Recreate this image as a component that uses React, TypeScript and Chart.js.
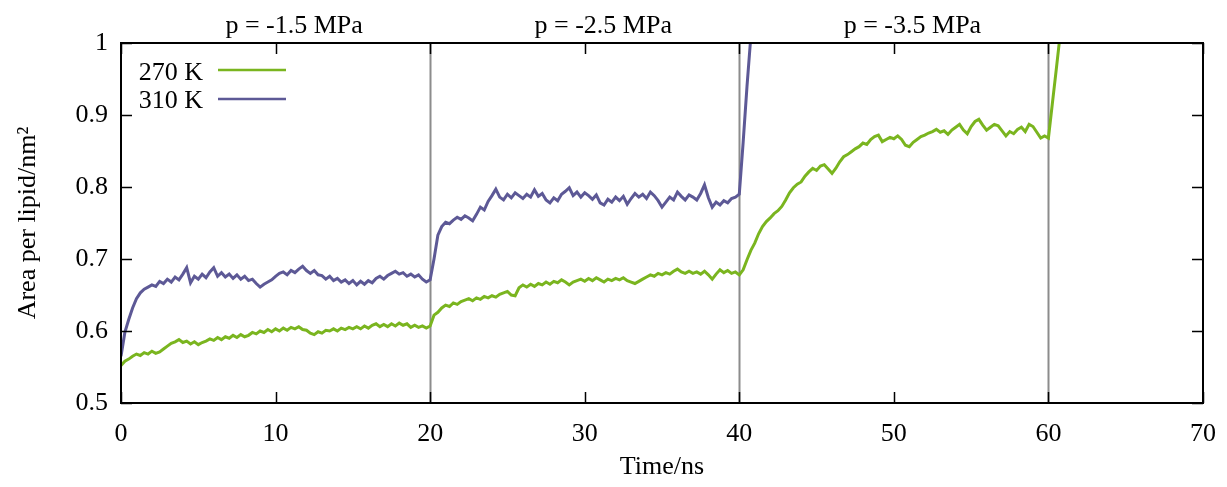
import { useEffect, useRef } from 'react';
import { Chart, registerables } from 'chart.js';

Chart.register(...registerables);

// time grid step (ns) of the sampled series
const STEP = 0.25;

// Area per lipid (nm^2), 270 K, sampled every 0.25 ns from t = 0
const area270K = [
  0.552, 0.558, 0.561, 0.565, 0.568, 0.566, 0.570, 0.568, 0.572, 0.569, 0.571, 0.575, 0.579, 0.583, 0.585, 0.588, 0.584, 0.586, 0.582, 0.585,
  0.581, 0.584, 0.586, 0.589, 0.587, 0.591, 0.588, 0.592, 0.590, 0.594, 0.591, 0.595, 0.592, 0.594, 0.598, 0.596, 0.600, 0.598, 0.602, 0.599,
  0.603, 0.600, 0.604, 0.601, 0.605, 0.603, 0.606, 0.602, 0.601, 0.597, 0.595, 0.599, 0.597, 0.601, 0.600, 0.603, 0.600, 0.604, 0.602, 0.605,
  0.603, 0.606, 0.603, 0.607, 0.604, 0.608, 0.610, 0.606, 0.609, 0.606, 0.610, 0.607, 0.611, 0.608, 0.610, 0.605, 0.608, 0.605, 0.607, 0.604,
  0.607, 0.622, 0.626, 0.632, 0.636, 0.634, 0.639, 0.637, 0.641, 0.643, 0.645, 0.642, 0.646, 0.644, 0.648, 0.646, 0.649, 0.647, 0.651, 0.653,
  0.655, 0.650, 0.649, 0.660, 0.664, 0.661, 0.665, 0.662, 0.666, 0.664, 0.668, 0.665, 0.669, 0.667, 0.671, 0.668, 0.664, 0.668, 0.670, 0.672,
  0.669, 0.673, 0.670, 0.674, 0.671, 0.668, 0.672, 0.670, 0.673, 0.671, 0.674, 0.670, 0.668, 0.666, 0.669, 0.672, 0.675, 0.678, 0.676, 0.680,
  0.678, 0.681, 0.679, 0.683, 0.686, 0.682, 0.680, 0.683, 0.680, 0.682, 0.679, 0.683, 0.678, 0.672, 0.679, 0.685, 0.681, 0.684, 0.680, 0.682,
  0.678, 0.685, 0.699, 0.712, 0.722, 0.735, 0.745, 0.752, 0.757, 0.763, 0.767, 0.773, 0.782, 0.792, 0.799, 0.804, 0.807, 0.815, 0.821, 0.826,
  0.823, 0.829, 0.831, 0.825, 0.819, 0.826, 0.835, 0.842, 0.845, 0.849, 0.853, 0.856, 0.861, 0.859, 0.866, 0.870, 0.872, 0.863, 0.866, 0.869,
  0.867, 0.871, 0.866, 0.858, 0.856, 0.862, 0.866, 0.870, 0.872, 0.875, 0.877, 0.880, 0.876, 0.878, 0.873, 0.879, 0.883, 0.887, 0.879, 0.874,
  0.884, 0.891, 0.894, 0.886, 0.879, 0.883, 0.887, 0.885, 0.878, 0.871, 0.877, 0.874, 0.880, 0.883, 0.877, 0.887, 0.884, 0.876, 0.868, 0.871,
  0.868, 0.915, 0.962, 1.010, 1.060,
];

// Area per lipid (nm^2), 310 K, sampled every 0.25 ns from t = 0
const area310K = [
  0.565, 0.598, 0.616, 0.632, 0.645, 0.653, 0.658, 0.661, 0.664, 0.662, 0.669, 0.666, 0.672, 0.668, 0.675, 0.671, 0.679, 0.688, 0.667, 0.676,
  0.672, 0.679, 0.674, 0.682, 0.688, 0.676, 0.681, 0.675, 0.679, 0.673, 0.678, 0.672, 0.676, 0.670, 0.672, 0.666, 0.661, 0.665, 0.668, 0.671,
  0.676, 0.680, 0.682, 0.678, 0.684, 0.681, 0.686, 0.690, 0.684, 0.680, 0.684, 0.678, 0.677, 0.672, 0.676, 0.670, 0.673, 0.668, 0.671, 0.666,
  0.670, 0.664, 0.669, 0.665, 0.670, 0.667, 0.673, 0.676, 0.672, 0.677, 0.680, 0.683, 0.679, 0.681, 0.676, 0.679, 0.675, 0.678, 0.672, 0.668,
  0.671, 0.700, 0.733, 0.745, 0.751, 0.749, 0.754, 0.758, 0.755, 0.760, 0.757, 0.753, 0.762, 0.772, 0.768, 0.780, 0.788, 0.797, 0.786, 0.782,
  0.790, 0.785, 0.792, 0.788, 0.784, 0.790, 0.786, 0.796, 0.787, 0.791, 0.782, 0.778, 0.785, 0.781, 0.790, 0.794, 0.799, 0.788, 0.793, 0.786,
  0.792, 0.788, 0.783, 0.789, 0.778, 0.775, 0.783, 0.779, 0.786, 0.781, 0.787, 0.776, 0.784, 0.791, 0.786, 0.790, 0.784, 0.793, 0.788, 0.781,
  0.772, 0.779, 0.786, 0.782, 0.793, 0.787, 0.782, 0.789, 0.786, 0.782, 0.791, 0.803, 0.785, 0.772, 0.779, 0.775, 0.781, 0.778, 0.784, 0.786,
  0.790, 0.862, 0.940, 1.010, 1.080,
];

const seriesNames = ['270 K', '310 K'];
const seriesColors = ['#7ab51f', '#5d5996'];

// pressure-change boundaries (ns) and labels above the plot
const boundaries = [20, 40, 60];
const pressureLabels = ['p = -1.5 MPa', 'p = -2.5 MPa', 'p = -3.5 MPa'];
const pressureLabelX = [11.2, 31.2, 51.2];

const FONT_FAMILY = '"Liberation Serif", "Times New Roman", serif';
const FONT_SIZE = 26;

export default function App() {
  const canvasRef = useRef<HTMLCanvasElement | null>(null);

  useEffect(() => {
    document.body.style.margin = '0';
    const canvas = canvasRef.current;
    if (!canvas) return;

    const toPoints = (arr: number[]) => arr.map((y, i) => ({ x: i * STEP, y }));

    const decorPlugin = {
      id: 'decor',
      beforeDatasetsDraw(chart: any) {
        const { ctx, chartArea, scales } = chart;
        ctx.save();
        ctx.strokeStyle = '#8c8c8c';
        ctx.lineWidth = 2;
        boundaries.forEach((b) => {
          const px = Math.round(scales.x.getPixelForValue(b)) + 0.5;
          ctx.beginPath();
          ctx.moveTo(px, chartArea.top);
          ctx.lineTo(px, chartArea.bottom);
          ctx.stroke();
        });
        ctx.restore();
      },
      afterDatasetsDraw(chart: any) {
        const { ctx, chartArea, scales } = chart;
        const { left, right, top, bottom } = chartArea;
        ctx.save();
        // inward ticks on all four sides
        ctx.strokeStyle = '#000';
        ctx.lineWidth = 1.5;
        const tl = 11;
        scales.x.ticks.forEach((t: any) => {
          const px = Math.round(scales.x.getPixelForValue(t.value)) + 0.5;
          ctx.beginPath();
          ctx.moveTo(px, bottom);
          ctx.lineTo(px, bottom - tl);
          ctx.moveTo(px, top);
          ctx.lineTo(px, top + tl);
          ctx.stroke();
        });
        scales.y.ticks.forEach((t: any) => {
          const py = Math.round(scales.y.getPixelForValue(t.value)) + 0.5;
          ctx.beginPath();
          ctx.moveTo(left, py);
          ctx.lineTo(left + tl, py);
          ctx.moveTo(right, py);
          ctx.lineTo(right - tl, py);
          ctx.stroke();
        });
        // frame
        ctx.lineWidth = 2;
        ctx.strokeRect(left, top, right - left, bottom - top);

        // pressure labels
        ctx.fillStyle = '#000';
        ctx.font = `${FONT_SIZE}px ${FONT_FAMILY}`;
        ctx.textAlign = 'center';
        ctx.textBaseline = 'alphabetic';
        pressureLabels.forEach((lab, i) => {
          ctx.fillText(lab, scales.x.getPixelForValue(pressureLabelX[i]), 33);
        });

        // legend (text left of sample line)
        const rows = [80, 108];
        const lineY = [70, 99];
        ctx.textAlign = 'right';
        seriesNames.forEach((name, i) => {
          ctx.fillStyle = '#000';
          ctx.fillText(name, 203, rows[i]);
          ctx.strokeStyle = seriesColors[i];
          ctx.lineWidth = 2.5;
          ctx.beginPath();
          ctx.moveTo(218, lineY[i]);
          ctx.lineTo(286, lineY[i]);
          ctx.stroke();
        });
        ctx.restore();
      },
    };

    const font = { family: FONT_FAMILY, size: FONT_SIZE };

    const chart = new Chart(canvas, {
      type: 'line',
      data: {
        datasets: [
          {
            label: seriesNames[0],
            data: toPoints(area270K),
            borderColor: seriesColors[0],
            borderWidth: 3,
            pointRadius: 0,
            tension: 0,
            clip: 0,
          },
          {
            label: seriesNames[1],
            data: toPoints(area310K),
            borderColor: seriesColors[1],
            borderWidth: 3,
            pointRadius: 0,
            tension: 0,
            clip: 0,
          },
        ],
      },
      options: {
        animation: false,
        responsive: false,
        maintainAspectRatio: false,
        layout: { padding: { top: 43, right: 24, left: 0, bottom: 0 } },
        plugins: { legend: { display: false }, tooltip: { enabled: false } },
        scales: {
          x: {
            type: 'linear',
            min: 0,
            max: 70,
            grid: { display: false, drawTicks: false },
            border: { display: false },
            ticks: { stepSize: 10, color: '#000', font, padding: 16, maxRotation: 0 },
            title: { display: true, text: 'Time/ns', color: '#000', font, padding: { top: 0, bottom: 4 } },
            afterFit: (s: any) => {
              s.height = 84;
              s.paddingLeft = 0;
              s.paddingRight = 0;
            },
          },
          y: {
            type: 'linear',
            min: 0.5,
            max: 1,
            grid: { display: false, drawTicks: false },
            border: { display: false },
            ticks: {
              stepSize: 0.1,
              color: '#000',
              font,
              padding: 13,
              callback: (v: any) => {
                const n = Math.round(Number(v) * 10) / 10;
                return n === 1 ? '1' : n.toFixed(1);
              },
            },
            title: { display: true, text: 'Area per lipid/nm²', color: '#000', font, padding: { top: 13, bottom: 0 } },
            afterFit: (s: any) => {
              s.width = 121;
              s.paddingTop = 0;
              s.paddingBottom = 0;
            },
          },
        },
      } as any,
      plugins: [decorPlugin],
    });

    return () => chart.destroy();
  }, []);

  return (
    <div style={{ width: 1227, height: 487, background: '#fff' }}>
      <canvas ref={canvasRef} width={1227} height={487} style={{ display: 'block' }} />
    </div>
  );
}
